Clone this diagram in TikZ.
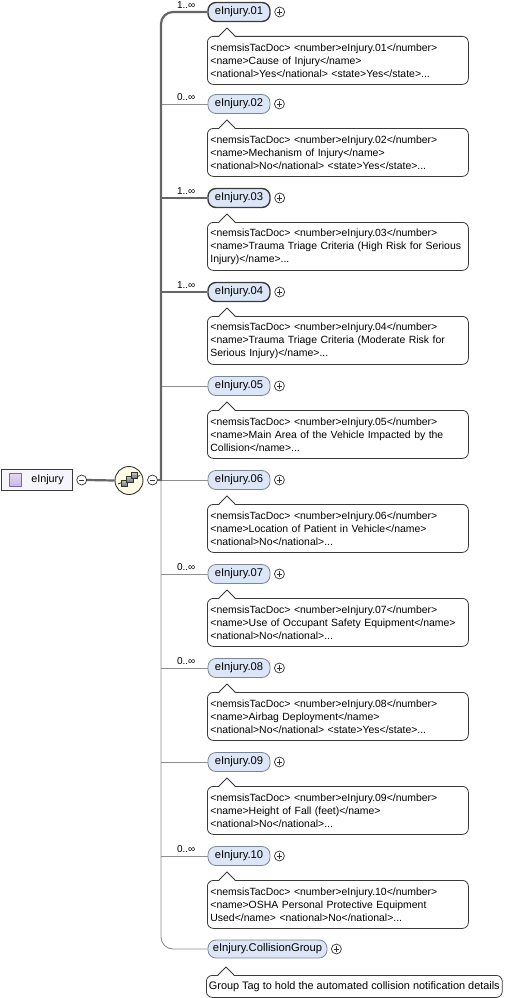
\documentclass[tikz,border=0pt]{standalone}
\usepackage{fontspec}
\setmainfont{Liberation Sans}
\definecolor{elemfill}{HTML}{DCE6F6}
\definecolor{elemline}{HTML}{7C8696}
\definecolor{reqline}{HTML}{3C3C3C}
\definecolor{docline}{HTML}{3A3A3A}
\definecolor{pmline}{HTML}{333333}
\definecolor{thinline}{HTML}{8E8E8E}
\definecolor{thickline}{HTML}{666666}
\definecolor{rootfill}{HTML}{F7F5FC}
\definecolor{iconfill}{HTML}{C9B8E6}
\definecolor{iconline}{HTML}{7D6AA8}
\definecolor{seqfill}{HTML}{FFFDE3}
\newcommand\docptr[1]{%
  \fill[white] ([xshift=12pt,yshift=-0.9pt]#1.north west) -- ([xshift=20pt,yshift=8pt]#1.north west) -- ([xshift=28pt,yshift=-0.9pt]#1.north west) -- cycle;
  \draw[docline, line width=0.8pt] ([xshift=12pt]#1.north west) -- ([xshift=20pt,yshift=8pt]#1.north west) -- ([xshift=28pt]#1.north west);}
\tikzset{
  elem/.style={draw=elemline, fill=elemfill, rounded corners=8pt, minimum width=62pt, minimum height=19pt, inner sep=0pt, line width=0.8pt, font=\fontsize{11.2}{13}\selectfont},
  elemreq/.style={elem, draw=reqline, line width=1.4pt},
  doc/.style={draw=docline, fill=white, rounded corners=6pt, anchor=north west, text width=255pt, minimum height=48pt, inner xsep=3pt, inner ysep=0pt, align=left, line width=0.8pt, font=\fontsize{10.45}{13}\selectfont},
  docone/.style={draw=docline, fill=white, rounded corners=6pt, anchor=north west, minimum height=22pt, inner xsep=2.5pt, inner ysep=0pt, line width=0.8pt, font=\fontsize{10.9}{13}\selectfont},
  pm/.style={circle, draw=pmline, fill=white, minimum size=10pt, inner sep=0pt, line width=0.7pt},
  plusc/.style={pm, path picture={
     \draw[pmline, line width=0.7pt] ([xshift=-2.7pt]path picture bounding box.center) -- ([xshift=2.7pt]path picture bounding box.center);
     \draw[pmline, line width=0.7pt] ([yshift=-2.7pt]path picture bounding box.center) -- ([yshift=2.7pt]path picture bounding box.center);}},
  minusc/.style={pm, path picture={
     \draw[pmline, line width=0.7pt] ([xshift=-2.7pt]path picture bounding box.center) -- ([xshift=2.7pt]path picture bounding box.center);}},
  mult/.style={anchor=east, inner sep=0pt, font=\fontsize{10}{11}\selectfont},
  conthin/.style={draw=thinline, line width=0.9pt},
  conthick/.style={draw=thickline, line width=2.2pt},
  seqbox/.style={draw=pmline, line width=0.6pt, top color=gray!45, bottom color=gray!85!black},
}
\begin{document}
\begin{tikzpicture}[x=1pt,y=-1pt]
\useasboundingbox (0,0) rectangle (514,998);
% root
\node[draw=docline, fill=rootfill, minimum width=71pt, minimum height=21pt, inner sep=0pt, anchor=west, line width=0.8pt] (root) at (0.8,480) {};
\node[draw=iconline, top color=iconfill!55, bottom color=iconfill, minimum size=12.5pt, inner sep=0pt, line width=0.6pt] (rooticon) at (15.5,480) {};
\node[inner sep=0pt, font=\fontsize{10.8}{12}\selectfont] (roottext) at (47.5,480) {eInjury};
\node[minusc] (rootm) at (81.7,480) {};
% sequence compositor
\node[circle, draw=pmline, fill=seqfill, minimum size=28pt, inner sep=0pt, line width=0.9pt] (seq) at (129,480.5) {};
\draw[pmline, line width=0.8pt] (118,484) -- (140,475.5);
\draw[seqbox] (121.2,480.2) rectangle (127.6,486.6);
\draw[seqbox] (126.4,476.2) rectangle (132.8,482.6);
\draw[seqbox] (131.6,472.4) rectangle (137.6,478.6);
\node[minusc] (seqm) at (152.5,480) {};
\draw[conthick] (rootm.east) -- (seq.west);
\coordinate (spine) at (161,480);
% elements
\node[elemreq] (e01) at (239,12) {eInjury.01};
\node[elem] (e02) at (239,104) {eInjury.02};
\node[elemreq] (e03) at (239,198) {eInjury.03};
\node[elemreq] (e04) at (239,292) {eInjury.04};
\node[elem] (e05) at (239,386) {eInjury.05};
\node[elem] (e06) at (239,480) {eInjury.06};
\node[elem] (e07) at (239,574) {eInjury.07};
\node[elem] (e08) at (239,668) {eInjury.08};
\node[elem] (e09) at (239,762) {eInjury.09};
\node[elem] (e10) at (239,856) {eInjury.10};
\node[elem, minimum width=119pt, minimum height=18pt] (e11) at (267.5,949) {eInjury.CollisionGroup};
% connectors
\draw[conthin, rounded corners=12pt] (spine) |- (e11.west);
\foreach \n in {02,05,06,07,08,09,10} {\draw[conthin] (e\n.west -| spine) -- (e\n.west);}
\draw[conthick] (seqm.east) -- (spine);
\draw[conthick, rounded corners=12pt] ([yshift=-1.1pt]spine) |- (e01.west);
\foreach \n in {03,04} {\draw[conthick] (e\n.west -| spine) -- (e\n.west);}
% plus circles
\foreach \n in {01,02,03,04,05,06,07,08,09,10} {\node[plusc] (p\n) at ([xshift=9pt]e\n.east) {};}
\node[plusc] (p11) at ([xshift=9pt]e11.east) {};
% multiplicities
\node[mult] (m01) at (195.5,5) {1..∞};
\node[mult] (m02) at (195.5,97) {0..∞};
\node[mult] (m03) at (195.5,191) {1..∞};
\node[mult] (m04) at (195.5,285) {1..∞};
\node[mult] (m07) at (195.5,567) {0..∞};
\node[mult] (m08) at (195.5,661) {0..∞};
\node[mult] (m10) at (195.5,849) {0..∞};
% documentation boxes
\node[doc] (d01) at (207,36) {<nemsisTacDoc> <number>eInjury.01</number>\\<name>Cause of Injury</name>\\<national>Yes</national> <state>Yes</state>...};
\docptr{d01}
\node[doc] (d02) at (207,128) {<nemsisTacDoc> <number>eInjury.02</number>\\<name>Mechanism of Injury</name>\\<national>No</national> <state>Yes</state>...};
\docptr{d02}
\node[doc] (d03) at (207,222) {<nemsisTacDoc> <number>eInjury.03</number>\\<name>Trauma Triage Criteria (High Risk for Serious\\Injury)</name>...};
\docptr{d03}
\node[doc] (d04) at (207,316) {<nemsisTacDoc> <number>eInjury.04</number>\\<name>Trauma Triage Criteria (Moderate Risk for\\Serious Injury)</name>...};
\docptr{d04}
\node[doc] (d05) at (207,410) {<nemsisTacDoc> <number>eInjury.05</number>\\<name>Main Area of the Vehicle Impacted by the\\Collision</name>...};
\docptr{d05}
\node[doc] (d06) at (207,504) {<nemsisTacDoc> <number>eInjury.06</number>\\<name>Location of Patient in Vehicle</name>\\<national>No</national>...};
\docptr{d06}
\node[doc] (d07) at (207,598) {<nemsisTacDoc> <number>eInjury.07</number>\\<name>Use of Occupant Safety Equipment</name>\\<national>No</national>...};
\docptr{d07}
\node[doc] (d08) at (207,692) {<nemsisTacDoc> <number>eInjury.08</number>\\<name>Airbag Deployment</name>\\<national>No</national> <state>Yes</state>...};
\docptr{d08}
\node[doc] (d09) at (207,786) {<nemsisTacDoc> <number>eInjury.09</number>\\<name>Height of Fall (feet)</name>\\<national>No</national>...};
\docptr{d09}
\node[doc] (d10) at (207,880) {<nemsisTacDoc> <number>eInjury.10</number>\\<name>OSHA Personal Protective Equipment\\Used</name> <national>No</national>...};
\docptr{d10}
\node[docone] (d11) at (206,975) {Group Tag to hold the automated collision notification details};
\docptr{d11}
\end{tikzpicture}
\end{document}
